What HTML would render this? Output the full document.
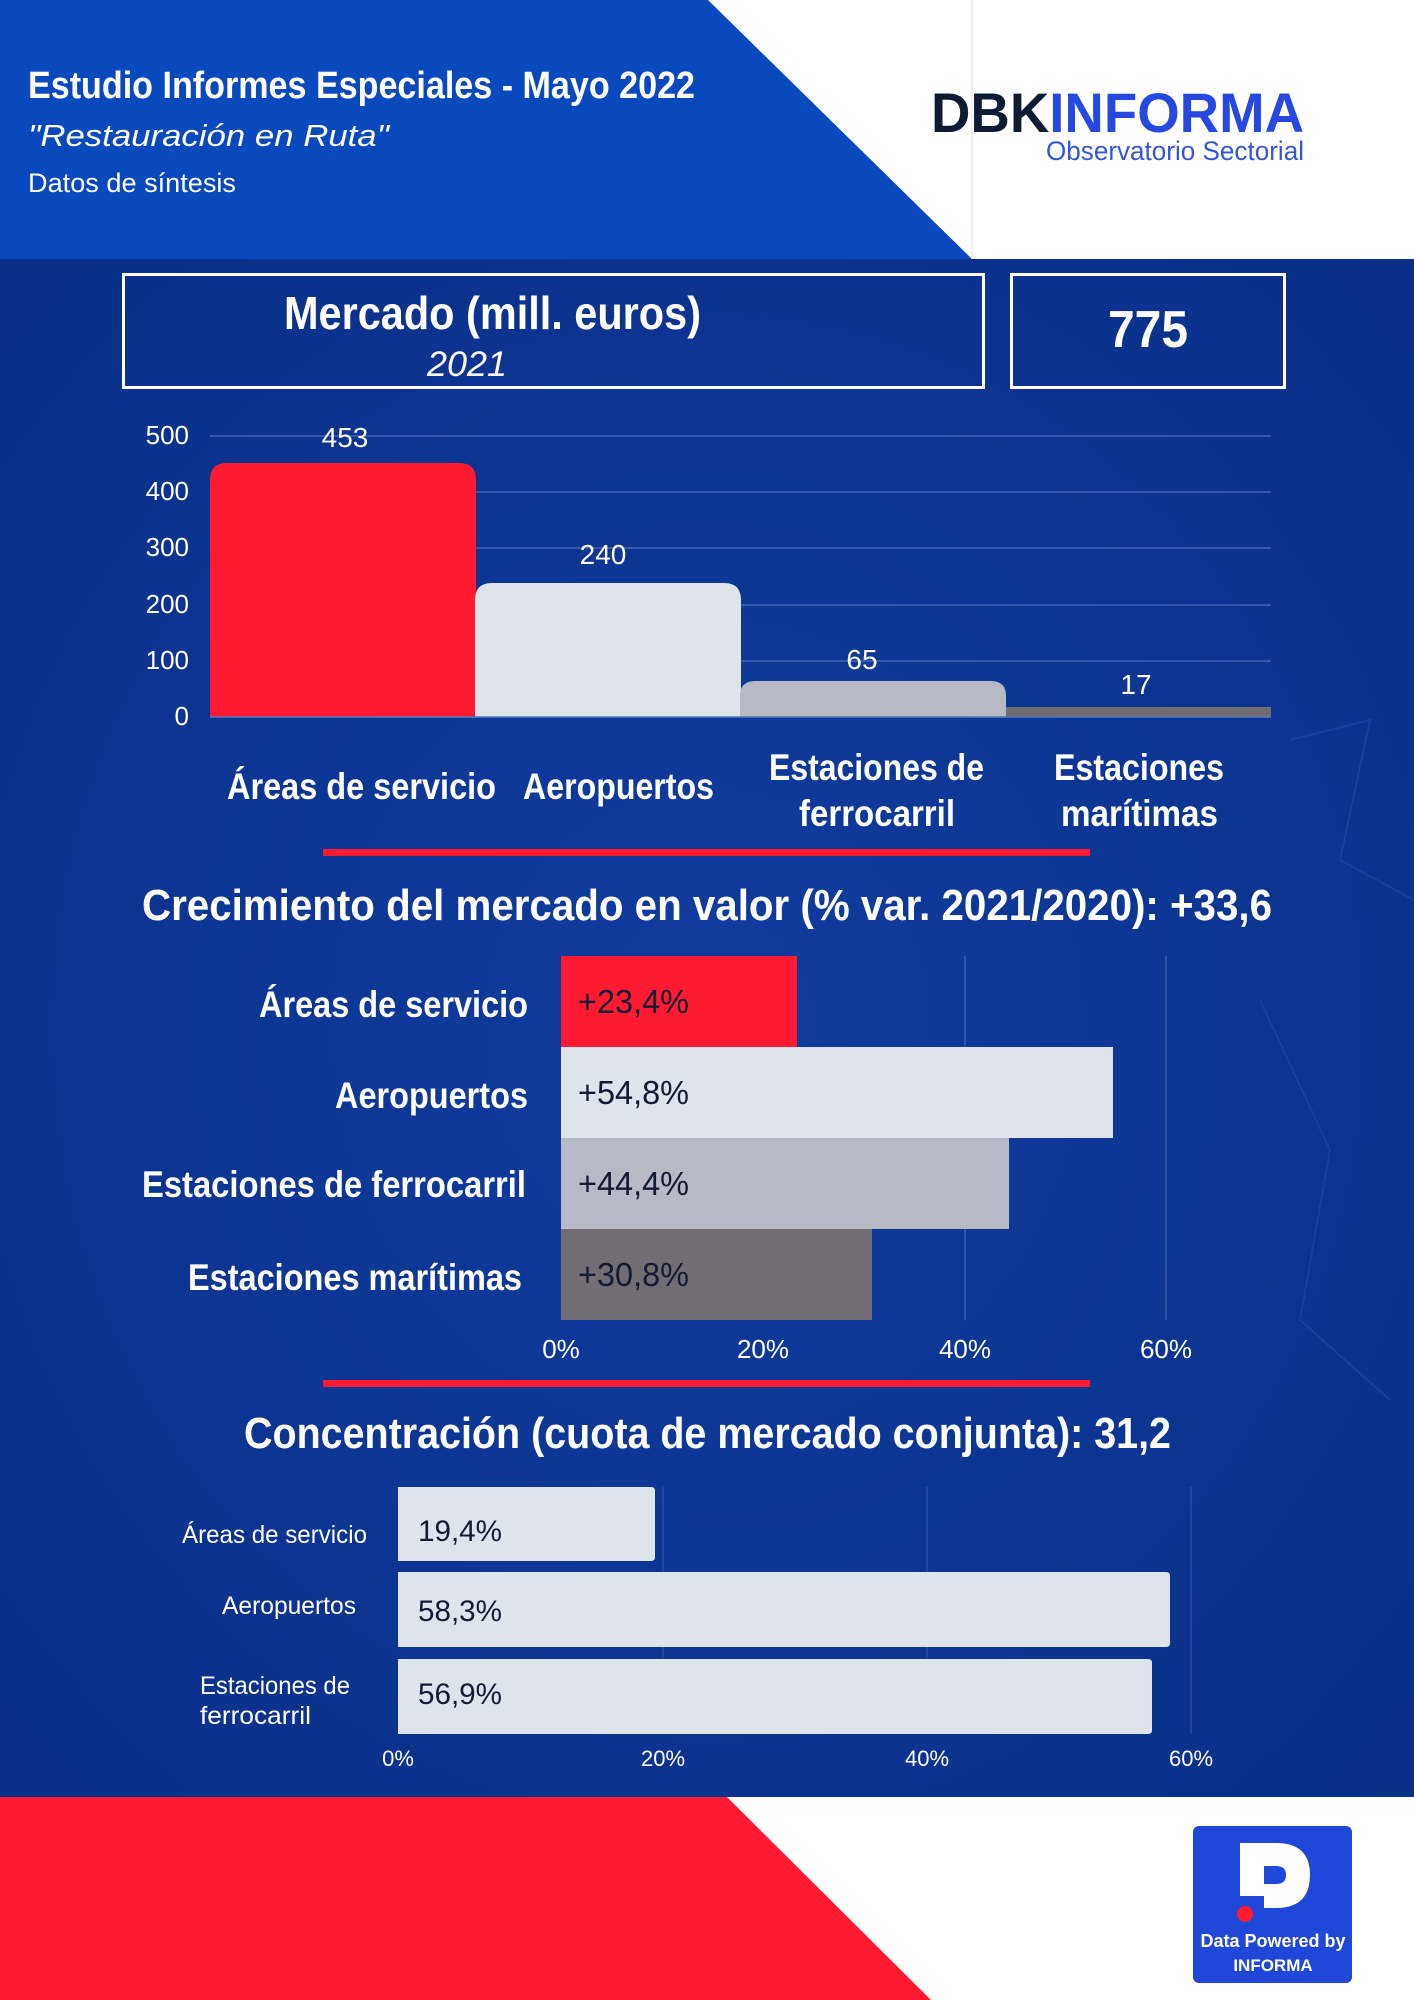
<!DOCTYPE html>
<html><head><meta charset="utf-8"><style>
html,body{margin:0;padding:0;width:1414px;height:2000px;overflow:hidden;background:#0b3590}
svg{display:block}
text{font-family:"Liberation Sans Narrow","Liberation Sans",sans-serif}
</style></head><body>
<svg width="1414" height="2000" viewBox="0 0 1414 2000" xmlns="http://www.w3.org/2000/svg">
<defs>
<radialGradient id="bg" cx="0.5" cy="0.5" r="0.7">
<stop offset="0" stop-color="#0f3c9e"/><stop offset="1" stop-color="#0a3088"/>
</radialGradient>
</defs>
<rect x="0" y="259" width="1414" height="1538" fill="url(#bg)"/>
<g stroke="#2a5ac0" stroke-width="2" opacity="0.35" fill="none">
<path d="M1290 740 L1370 720 L1340 860 L1414 900"/>
<path d="M1260 1000 L1330 1150 L1300 1320 L1390 1400"/>
</g>
<!-- header -->
<rect x="0" y="0" width="1414" height="259" fill="#ffffff"/>
<polygon points="0,0 708,0 972,259 0,259" fill="#0a48bd"/>
<line x1="972" y1="0" x2="972" y2="259" stroke="#f0f0f0" stroke-width="2"/>
<text x="28" y="98" fill="#fff" font-size="38" font-weight="bold" textLength="667" lengthAdjust="spacingAndGlyphs">Estudio Informes Especiales - Mayo 2022</text>
<text x="28" y="146" fill="#fff" font-size="31" font-style="italic" textLength="361" lengthAdjust="spacingAndGlyphs">"Restauración en Ruta"</text>
<text x="28" y="192" fill="#fff" font-size="27" textLength="208" lengthAdjust="spacingAndGlyphs">Datos de síntesis</text>
<text x="931" y="132" fill="#0e1b33" font-size="56" font-weight="bold" font-family="Liberation Sans" textLength="373" lengthAdjust="spacingAndGlyphs">DBK<tspan fill="#2448e0">INFORMA</tspan></text>
<text x="1304" y="160" fill="#3556d8" font-size="27" text-anchor="end" textLength="258" lengthAdjust="spacingAndGlyphs">Observatorio Sectorial</text>

<!-- boxes -->
<rect x="123.5" y="274.5" width="860" height="113" fill="none" stroke="#fff" stroke-width="3"/>
<text x="284" y="329" fill="#fff" font-size="46" font-weight="bold" textLength="417" lengthAdjust="spacingAndGlyphs">Mercado (mill. euros)</text>
<text x="427" y="376" fill="#fff" font-size="35" font-style="italic" textLength="80" lengthAdjust="spacingAndGlyphs">2021</text>
<rect x="1011.5" y="274.5" width="273" height="113" fill="none" stroke="#fff" stroke-width="3"/>
<text x="1148" y="347" fill="#fff" font-size="52" font-weight="bold" text-anchor="middle" textLength="80" lengthAdjust="spacingAndGlyphs">775</text>

<!-- chart 1 -->
<g stroke="#5b78c0" stroke-width="1.2" opacity="0.8">
<line x1="210" y1="436" x2="1271" y2="436"/>
<line x1="210" y1="492" x2="1271" y2="492"/>
<line x1="210" y1="548" x2="1271" y2="548"/>
<line x1="210" y1="605" x2="1271" y2="605"/>
<line x1="210" y1="661" x2="1271" y2="661"/>
</g>
<g fill="#fff" font-size="26" text-anchor="end">
<text x="189" y="444">500</text><text x="189" y="500">400</text><text x="189" y="556">300</text>
<text x="189" y="613">200</text><text x="189" y="669">100</text><text x="189" y="725">0</text>
</g>
<path d="M210 717 V480 Q210 463 227 463 H459 Q476 463 476 480 V717 Z" fill="#fe1b32"/>
<path d="M475 717 V600 Q475 583 492 583 H724 Q741 583 741 600 V717 Z" fill="#dde4ec"/>
<path d="M740 717 V696 Q740 681 755 681 H991 Q1006 681 1006 696 V717 Z" fill="#b7b9c4"/>
<rect x="1006" y="707" width="265" height="10" fill="#6f6b70"/>
<line x1="210" y1="717" x2="1271" y2="717" stroke="#5b78c0" stroke-width="1.5"/>
<g fill="#fff" font-size="28" text-anchor="middle">
<text x="345" y="447">453</text><text x="603" y="564">240</text>
<text x="862" y="669">65</text><text x="1136" y="694">17</text>
</g>
<g fill="#fff" font-size="37" font-weight="bold" lengthAdjust="spacingAndGlyphs">
<text x="227" y="799" textLength="269" lengthAdjust="spacingAndGlyphs">Áreas de servicio</text>
<text x="523" y="799" textLength="191" lengthAdjust="spacingAndGlyphs">Aeropuertos</text>
<text x="769" y="780" textLength="215" lengthAdjust="spacingAndGlyphs">Estaciones de</text>
<text x="799" y="826" textLength="156" lengthAdjust="spacingAndGlyphs">ferrocarril</text>
<text x="1054" y="780" textLength="170" lengthAdjust="spacingAndGlyphs">Estaciones</text>
<text x="1061" y="826" textLength="157" lengthAdjust="spacingAndGlyphs">marítimas</text>
</g>
<rect x="323" y="849" width="767" height="7" fill="#fe1b32"/>

<!-- chart 2 -->
<text x="142" y="920" fill="#fff" font-size="44" font-weight="bold" textLength="1130" lengthAdjust="spacingAndGlyphs">Crecimiento del mercado en valor (% var. 2021/2020): +33,6</text>
<g stroke="#5b78c0" stroke-width="1.2" opacity="0.7">
<line x1="762" y1="956" x2="762" y2="1320"/><line x1="965" y1="956" x2="965" y2="1320"/><line x1="1166" y1="956" x2="1166" y2="1320"/>
</g>
<rect x="561" y="956" width="236" height="91" fill="#fe1b32"/>
<rect x="561" y="1047" width="552" height="91" fill="#dde4ec"/>
<rect x="561" y="1138" width="448" height="91" fill="#b7b9c4"/>
<rect x="561" y="1229" width="311" height="91" fill="#726d73"/>
<g fill="#141b33" font-size="33">
<text x="578" y="1013" textLength="111" lengthAdjust="spacingAndGlyphs">+23,4%</text>
<text x="578" y="1104" textLength="111" lengthAdjust="spacingAndGlyphs">+54,8%</text>
<text x="578" y="1195" textLength="111" lengthAdjust="spacingAndGlyphs">+44,4%</text>
<text x="578" y="1286" textLength="111" lengthAdjust="spacingAndGlyphs">+30,8%</text>
</g>
<g fill="#fff" font-size="37" font-weight="bold">
<text x="259" y="1017" textLength="269" lengthAdjust="spacingAndGlyphs">Áreas de servicio</text>
<text x="335" y="1108" textLength="193" lengthAdjust="spacingAndGlyphs">Aeropuertos</text>
<text x="142" y="1197" textLength="384" lengthAdjust="spacingAndGlyphs">Estaciones de ferrocarril</text>
<text x="188" y="1290" textLength="334" lengthAdjust="spacingAndGlyphs">Estaciones marítimas</text>
</g>
<g fill="#fff" font-size="26" text-anchor="middle">
<text x="561" y="1358">0%</text><text x="763" y="1358">20%</text><text x="965" y="1358">40%</text><text x="1166" y="1358">60%</text>
</g>
<rect x="323" y="1380" width="767" height="7" fill="#fe1b32"/>

<!-- chart 3 -->
<text x="244" y="1448" fill="#fff" font-size="44" font-weight="bold" textLength="927" lengthAdjust="spacingAndGlyphs">Concentración (cuota de mercado conjunta): 31,2</text>
<g stroke="#5b78c0" stroke-width="1" opacity="0.5">
<line x1="663" y1="1487" x2="663" y2="1734"/><line x1="927" y1="1487" x2="927" y2="1734"/><line x1="1191" y1="1487" x2="1191" y2="1734"/>
</g>
<path d="M398 1487 H651 Q655 1487 655 1491 V1557 Q655 1561 651 1561 H398 Z" fill="#dde4ec"/>
<path d="M398 1572 H1166 Q1170 1572 1170 1576 V1643 Q1170 1647 1166 1647 H398 Z" fill="#dde4ec"/>
<path d="M398 1659 H1148 Q1152 1659 1152 1663 V1730 Q1152 1734 1148 1734 H398 Z" fill="#dde4ec"/>
<g fill="#141b33" font-size="30">
<text x="418" y="1541" textLength="84" lengthAdjust="spacingAndGlyphs">19,4%</text>
<text x="418" y="1621" textLength="84" lengthAdjust="spacingAndGlyphs">58,3%</text>
<text x="418" y="1704" textLength="84" lengthAdjust="spacingAndGlyphs">56,9%</text>
</g>
<g fill="#fff" font-size="25">
<text x="182" y="1543" textLength="185" lengthAdjust="spacingAndGlyphs">Áreas de servicio</text>
<text x="222" y="1614" textLength="134" lengthAdjust="spacingAndGlyphs">Aeropuertos</text>
<text x="200" y="1694" textLength="150" lengthAdjust="spacingAndGlyphs">Estaciones de</text>
<text x="200" y="1724" textLength="111" lengthAdjust="spacingAndGlyphs">ferrocarril</text>
</g>
<g fill="#fff" font-size="22" text-anchor="middle">
<text x="398" y="1766">0%</text><text x="663" y="1766">20%</text><text x="927" y="1766">40%</text><text x="1191" y="1766">60%</text>
</g>

<!-- footer -->
<rect x="0" y="1797" width="1414" height="203" fill="#ffffff"/>
<polygon points="0,1797 727,1797 931,2000 0,2000" fill="#fe1b32"/>
<rect x="1193" y="1826" width="159" height="157" rx="6" fill="#1f47d8"/>
<path d="M1240 1843 H1276 Q1310 1843 1310 1875 Q1310 1908 1276 1908 H1264 V1884 H1276 Q1286 1884 1286 1875 Q1286 1866 1276 1866 H1264 V1896 H1240 Z" fill="#fff"/>
<circle cx="1245" cy="1914" r="8" fill="#fe1b32"/>
<text x="1273" y="1947" fill="#fff" font-size="18" font-weight="bold" text-anchor="middle">Data Powered by</text>
<text x="1273" y="1971" fill="#fff" font-size="17" font-weight="bold" text-anchor="middle">INFORMA</text>
</svg>
</body></html>
